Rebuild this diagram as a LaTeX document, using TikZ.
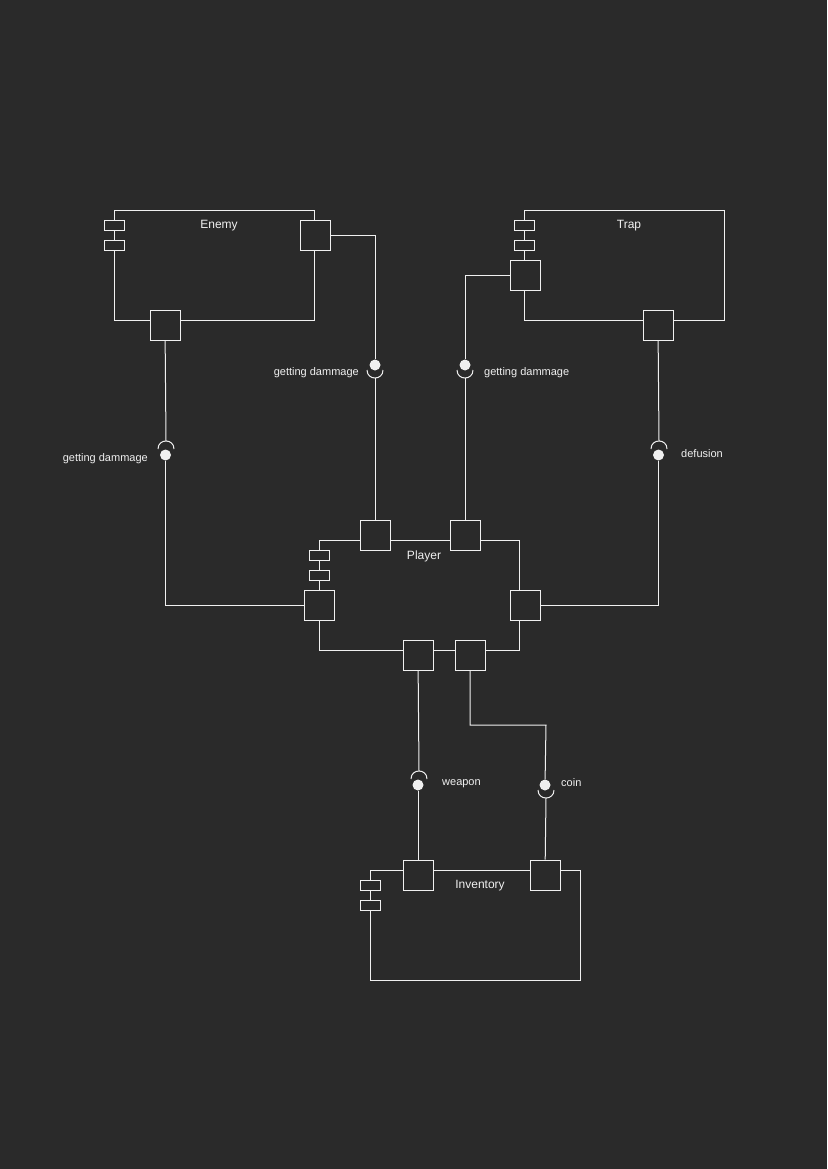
\documentclass[tikz,border=0pt]{standalone}
\usepackage{fontspec}
\setmainfont{Liberation Sans}
\usepackage{tikz}
\usetikzlibrary{positioning,calc}
\definecolor{bg}{HTML}{2A2A2A}
\definecolor{ink}{HTML}{F0F0F0}

\begin{document}
\begin{tikzpicture}[x=1pt, y=-1pt,
  body/.style={draw=ink, line width=1pt, minimum width=200pt, minimum height=110pt, inner sep=0pt},
  port/.style={draw=ink, line width=1pt, fill=bg, minimum size=30pt, inner sep=0pt},
  tab/.style={draw=ink, line width=1pt, fill=bg, minimum width=20pt, minimum height=10pt, inner sep=0pt},
  ball/.style={circle, fill=ink, minimum size=11pt, inner sep=0pt},
  title/.style={text=ink, inner sep=0pt, font=\fontsize{12}{14}\selectfont},
  tag/.style={text=ink, inner sep=0pt, font=\fontsize{11}{13}\selectfont},
  wire/.style={draw=ink, line width=1pt}
]
\fill[bg] (0,0) rectangle (827,1169);
\useasboundingbox (0,0) rectangle (827,1169);

% components
\node[body] (enemy) at (214,265) {};
\node[body] (trap) at (624,265) {};
\node[body] (player) at (419,595) {};
\node[body, minimum width=210pt] (inventory) at (475,925) {};
\node[title] (enemyname) at (219,226) {Enemy};
\node[title] (trapname) at (629,226) {Trap};
\node[title] (playername) at (424,556) {Player};
\node[title] (inventoryname) at (480,886) {Inventory};

% interface points
\node[ball] (b1) at (375,365) {};
\node[ball] (b2) at (465,365) {};
\node[ball] (b3) at (165.5,455) {};
\node[ball] (b4) at (658.5,455) {};
\node[ball] (b5) at (418,785) {};
\node[ball] (b6) at (545,785) {};
\coordinate (k1) at (375,378);
\coordinate (k2) at (465,378);
\coordinate (k3) at (166,441);
\coordinate (k4) at (659,441);
\coordinate (k5) at (419,771);
\coordinate (k6) at (546,798);
\coordinate (c6) at (546,725);

% sockets
\draw[wire] ($(k1)+(-8,-8)$) .. controls +(0,10.67) and +(0,10.67) .. ($(k1)+(8,-8)$);
\draw[wire] ($(k2)+(-8,-8)$) .. controls +(0,10.67) and +(0,10.67) .. ($(k2)+(8,-8)$);
\draw[wire] ($(k6)+(-8,-8)$) .. controls +(0,10.67) and +(0,10.67) .. ($(k6)+(8,-8)$);
\draw[wire] ($(k3)+(-8,8)$) .. controls +(0,-10.67) and +(0,-10.67) .. ($(k3)+(8,8)$);
\draw[wire] ($(k4)+(-8,8)$) .. controls +(0,-10.67) and +(0,-10.67) .. ($(k4)+(8,8)$);
\draw[wire] ($(k5)+(-8,8)$) .. controls +(0,-10.67) and +(0,-10.67) .. ($(k5)+(8,8)$);

% ports
\node[port] (eR) at (315,235) {};
\node[port] (eB) at (165,325) {};
\node[port] (tL) at (525,275) {};
\node[port] (tB) at (658,325) {};
\node[port] (pT1) at (375,535) {};
\node[port] (pT2) at (465,535) {};
\node[port] (pL) at (319,605) {};
\node[port] (pR) at (525,605) {};
\node[port] (pB1) at (418,655) {};
\node[port] (pB2) at (470,655) {};
\node[port] (iL) at (418,875) {};
\node[port] (iR) at (545,875) {};

\node[tab] (eT1) at (114,225) {};
\node[tab] (eT2) at (114,245) {};
\node[tab] (tT1) at (524,225) {};
\node[tab] (tT2) at (524,245) {};
\node[tab] (pTab1) at (319,555) {};
\node[tab] (pTab2) at (319,575) {};
\node[tab] (iT1) at (370,885) {};
\node[tab] (iT2) at (370,905) {};

% connectors
\draw[wire] (eR) -| (b1);
\draw[wire] (k1) -- (pT1);
\draw[wire] (tL) -| (b2);
\draw[wire] (k2) -- (pT2);
\draw[wire] (eB) -- (k3);
\draw[wire] (b3) |- (pL);
\draw[wire] (tB) -- (k4);
\draw[wire] (b4) |- (pR);
\draw[wire] (pB1) -- (k5);
\draw[wire] (b5) -- (iL);
\draw[wire] (pB2) |- (c6) -- (b6);
\draw[wire] (k6) -- (iR);

% labels
\node[tag, anchor=east] (l1) at (359,373) {getting dammage};
\node[tag, anchor=west] (l2) at (484,373) {getting dammage};
\node[tag, anchor=east] (l3) at (148,459) {getting dammage};
\node[tag, anchor=west] (l4) at (681,454) {defusion};
\node[tag, anchor=west] (l5) at (442,784) {weapon};
\node[tag, anchor=west] (l6) at (561,783) {coin};
\end{tikzpicture}
\end{document}
